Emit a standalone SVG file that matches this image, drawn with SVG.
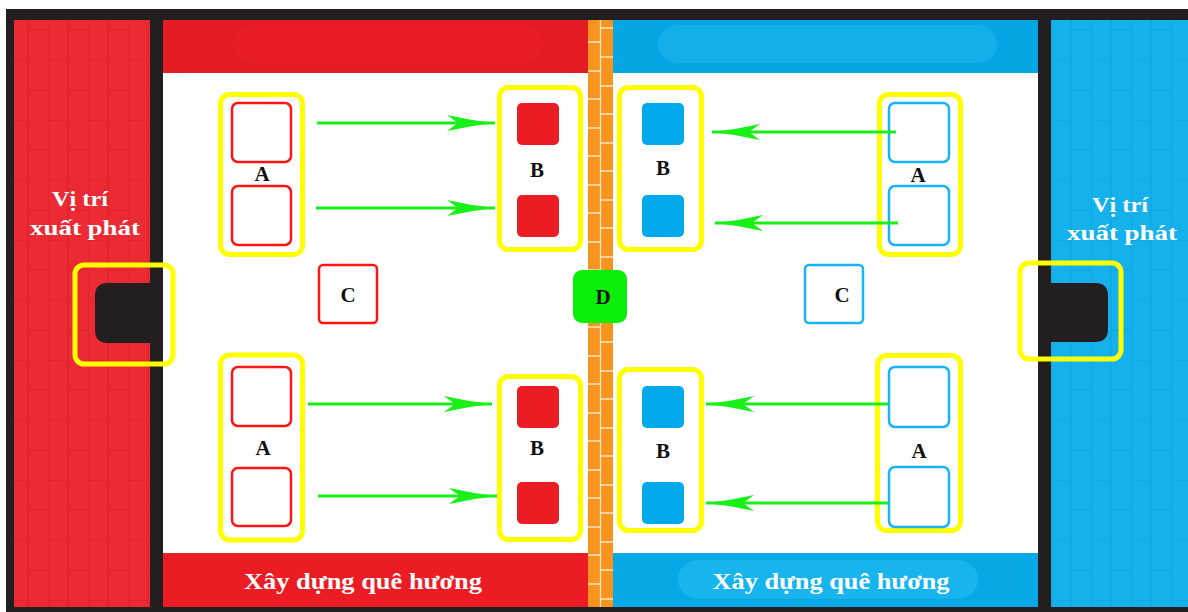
<svg xmlns="http://www.w3.org/2000/svg" width="1188" height="612" viewBox="0 0 1188 612">
<style>
.lbl{font-family:"Liberation Serif","DejaVu Serif",serif;font-weight:bold;font-size:21px;fill:#111;text-anchor:middle}
.wt{font-family:"Liberation Serif","DejaVu Serif",serif;font-weight:bold;fill:#fff;text-anchor:middle}
.ybox{fill:none;stroke:#ffff00;stroke-width:5}
.rbox{fill:#fff;stroke:#ff1414;stroke-width:2.5}
.bbox{fill:#fff;stroke:#1ab4f2;stroke-width:2.5}
.rsq{fill:#ec1c24}
.bsq{fill:#00a9e9}
.conn{stroke:#18f018;stroke-width:3;fill:none;marker-end:url(#ah)}
.brick{stroke:#fff;stroke-opacity:0.75;stroke-width:1.3}
</style>
<defs>
<marker id="ah" markerUnits="userSpaceOnUse" markerWidth="52" markerHeight="18" refX="50" refY="9" orient="auto" viewBox="0 0 52 18">
<path d="M50,9 Q26,6.5 2,1 L13,9 L2,17 Q26,11.5 50,9 Z" fill="#18f018"/>
</marker>
<pattern id="redBrick" patternUnits="userSpaceOnUse" x="8" y="0" width="40" height="60">
<rect width="40" height="60" fill="#ec2a33"/>
<path d="M0,0V60M20,0V60M0,0H20M20,30H40" stroke="#d41a24" stroke-opacity="0.55" stroke-width="1.5" fill="none"/>
</pattern>
<pattern id="blueBrick" patternUnits="userSpaceOnUse" x="1051" y="0" width="40" height="60">
<rect width="40" height="60" fill="#14b1ec"/>
<path d="M0,0V60M20,0V60M0,0H20M20,30H40" stroke="#089cd6" stroke-opacity="0.55" stroke-width="1.5" fill="none"/>
</pattern>
</defs>

<rect width="1188" height="612" fill="#fff"/>
<g id="frame">
<rect x="6" y="9" width="1182" height="603" fill="#231f20"/>
<rect x="14" y="20" width="136" height="587" fill="url(#redBrick)"/>
<rect x="1051" y="20" width="137" height="587" fill="url(#blueBrick)"/>
<rect x="163" y="20" width="425" height="53" fill="#e41c24"/>
<rect x="233" y="25" width="310" height="38" rx="19" fill="#e81d26"/>
<rect x="163" y="73" width="425" height="480" fill="#fff"/>
<rect x="163" y="553" width="425" height="54" fill="#ec1c24"/>
<rect x="613" y="20" width="425" height="53" fill="#06a6e4"/>
<rect x="658" y="25" width="339" height="38" rx="19" fill="#14afea"/>
<rect x="613" y="73" width="425" height="480" fill="#fff"/>
<rect x="613" y="553" width="425" height="54" fill="#06a8e6"/>
<rect x="678" y="560" width="300" height="39" rx="19.5" fill="#18b4ee"/>
</g>

<g id="wall">
<rect x="588" y="20" width="25" height="587" fill="#f7941d"/>
<path class="brick" d="M600.5,20V607 M588,42H600 M588,71H600 M588,99H600 M588,128H600 M588,156H600 M588,185H600 M588,213H600 M588,242H600 M588,270H600 M588,299H600 M588,327H600 M588,356H600 M588,384H600 M588,413H600 M588,441H600 M588,470H600 M588,498H600 M588,527H600 M588,555H600 M588,584H600 M601,28H613 M601,57H613 M601,86H613 M601,114H613 M601,143H613 M601,171H613 M601,200H613 M601,228H613 M601,257H613 M601,285H613 M601,314H613 M601,342H613 M601,371H613 M601,399H613 M601,428H613 M601,456H613 M601,485H613 M601,513H613 M601,542H613 M601,570H613 M601,599H613"/>
</g>

<g id="start-left">
<text class="wt" x="80" y="206" font-size="22" textLength="56" lengthAdjust="spacingAndGlyphs">Vị trí</text>
<text class="wt" x="85" y="235" font-size="22" textLength="110" lengthAdjust="spacingAndGlyphs">xuất phát</text>
<path d="M150,283 H108 Q95,283 95,296 V330 Q95,343 108,343 H150 Z" fill="#231f20"/>
<rect x="75" y="265" width="98" height="99" rx="9" class="ybox" stroke-width="4.5"/>
</g>

<g id="start-right">
<text class="wt" x="1120" y="212" font-size="22" textLength="56" lengthAdjust="spacingAndGlyphs">Vị trí</text>
<text class="wt" x="1122" y="240" font-size="22" textLength="110" lengthAdjust="spacingAndGlyphs">xuất phát</text>
<path d="M1050,283 H1095 Q1108,283 1108,296 V329 Q1108,342 1095,342 H1050 Z" fill="#231f20"/>
<rect x="1020" y="263" width="101" height="96" rx="9" class="ybox" stroke-width="4.5"/>
</g>

<g id="A-red-top">
<rect x="220.5" y="94.5" width="82" height="160" rx="9" class="ybox"/>
<rect x="232" y="103" width="59" height="59" rx="6" class="rbox"/>
<rect x="232" y="186" width="59" height="59" rx="6" class="rbox"/>
<text class="lbl" x="262" y="181">A</text>
</g>
<g id="B-red-top">
<rect x="499.5" y="87.5" width="81" height="162" rx="9" class="ybox"/>
<rect x="517" y="103" width="42" height="42" rx="5" class="rsq"/>
<rect x="517" y="195" width="42" height="42" rx="5" class="rsq"/>
<text class="lbl" x="537" y="177">B</text>
</g>
<g id="A-red-bottom">
<rect x="220.5" y="355" width="82" height="185" rx="9" class="ybox"/>
<rect x="232" y="367" width="59" height="59" rx="6" class="rbox"/>
<rect x="232" y="468" width="59" height="58" rx="6" class="rbox"/>
<text class="lbl" x="263" y="455">A</text>
</g>
<g id="B-red-bottom">
<rect x="499.5" y="376.5" width="81" height="163" rx="9" class="ybox"/>
<rect x="517" y="386" width="42" height="42" rx="5" class="rsq"/>
<rect x="517" y="482" width="42" height="42" rx="5" class="rsq"/>
<text class="lbl" x="537" y="455">B</text>
</g>
<g id="C-red">
<rect x="319" y="265" width="58" height="58" rx="4" class="rbox"/>
<text class="lbl" x="348" y="302">C</text>
</g>

<g id="D">
<rect x="573" y="270" width="54" height="53" rx="9" fill="#0aee0a"/>
<text class="lbl" x="603" y="304">D</text>
</g>

<g id="B-blue-top">
<rect x="619.5" y="87.5" width="82" height="162" rx="9" class="ybox"/>
<rect x="642" y="103" width="42" height="42" rx="5" class="bsq"/>
<rect x="642" y="195" width="42" height="42" rx="5" class="bsq"/>
<text class="lbl" x="663" y="175">B</text>
</g>
<g id="A-blue-top">
<rect x="879.5" y="94.5" width="81" height="160" rx="9" class="ybox"/>
<rect x="889" y="103" width="60" height="59" rx="6" class="bbox"/>
<rect x="889" y="186" width="60" height="59" rx="6" class="bbox"/>
<text class="lbl" x="918" y="182">A</text>
</g>
<g id="B-blue-bottom">
<rect x="619.5" y="369.5" width="82" height="161" rx="9" class="ybox"/>
<rect x="642" y="386" width="42" height="42" rx="5" class="bsq"/>
<rect x="642" y="482" width="42" height="42" rx="5" class="bsq"/>
<text class="lbl" x="663" y="458">B</text>
</g>
<g id="A-blue-bottom">
<rect x="877.5" y="355.5" width="83" height="175" rx="9" class="ybox"/>
<rect x="889" y="367" width="60" height="60" rx="6" class="bbox"/>
<rect x="889" y="467" width="60" height="60" rx="6" class="bbox"/>
<text class="lbl" x="919" y="458">A</text>
</g>
<g id="C-blue">
<rect x="805" y="265" width="58" height="58" rx="4" class="bbox"/>
<text class="lbl" x="842" y="302">C</text>
</g>

<g id="connectors">
<line class="conn" x1="317" y1="123" x2="495" y2="123"/>
<line class="conn" x1="316" y1="208" x2="495" y2="208"/>
<line class="conn" x1="308" y1="404" x2="492" y2="404"/>
<line class="conn" x1="318" y1="496" x2="497" y2="496"/>
<line class="conn" x1="896" y1="132" x2="712" y2="132"/>
<line class="conn" x1="898" y1="223" x2="715" y2="223"/>
<line class="conn" x1="888" y1="404" x2="706" y2="404"/>
<line class="conn" x1="888" y1="503" x2="706" y2="503"/>
</g>

<g id="footer">
<text class="wt" x="363" y="589" font-size="23" textLength="238" lengthAdjust="spacingAndGlyphs">Xây dựng quê hương</text>
<text class="wt" x="831" y="589" font-size="23" textLength="237" lengthAdjust="spacingAndGlyphs">Xây dựng quê hương</text>
</g>
</svg>
